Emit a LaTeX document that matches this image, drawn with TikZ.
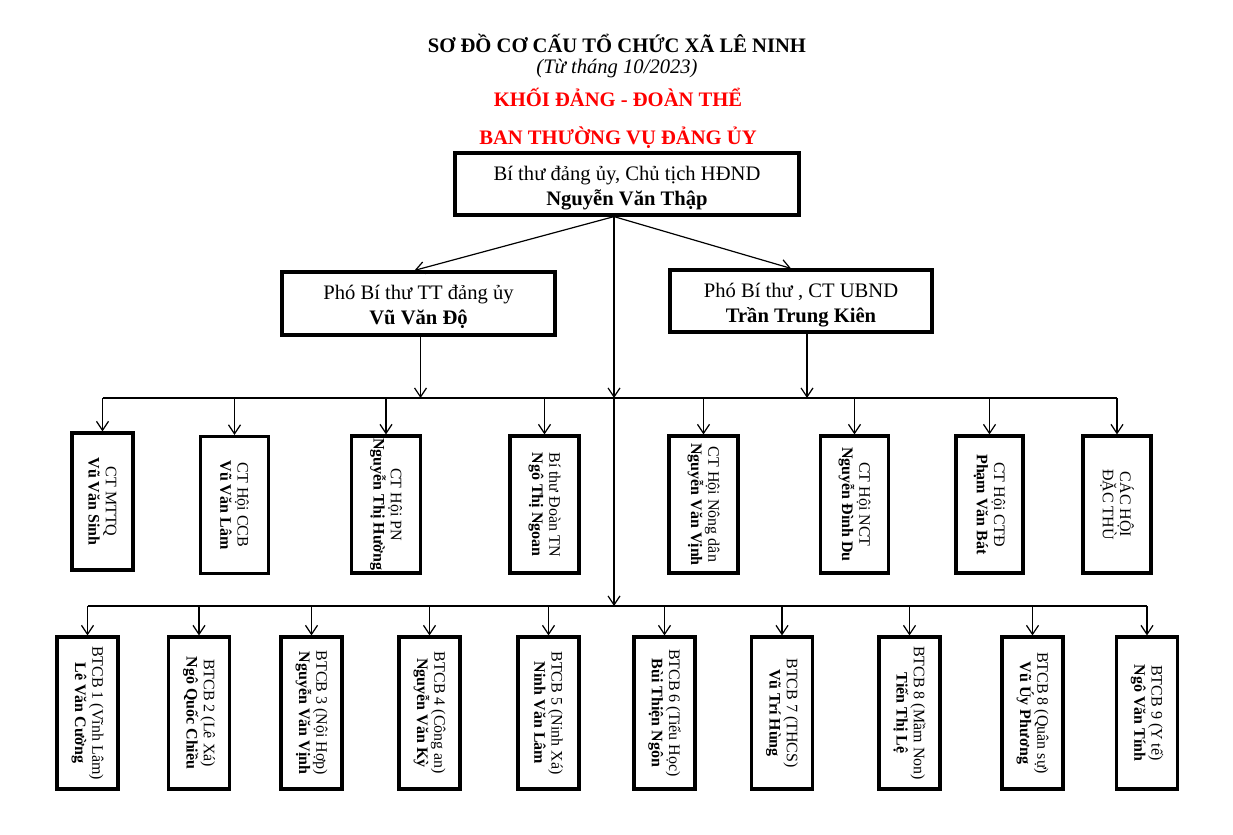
\documentclass[tikz,border=0pt]{standalone}
\usepackage{fontspec}
\setmainfont{Liberation Serif}
\usepackage{tikz}
\usetikzlibrary{arrows.meta}
\tikzset{
  headline/.style         = {font=\fontsize{10.3}{12.5}\selectfont\bfseries},
  redline/.style          = {headline, text=red},
  mainbox/.style          = {rectangle, draw, line width=1.6pt, align=center,
                             inner sep=0pt},
  vbox/.style             = {rectangle, draw, line width=1.6pt, rotate=-90,
                             align=center, inner sep=0pt,
                             font=\fontsize{8}{8.6}\selectfont},
  unitbox/.style          = {vbox, minimum width=76pt, minimum height=30.5pt},
  arrow/.style            = {-{Straight Barb[length=4.5pt,width=6pt]}, line width=0.6pt},
  link/.style             = {line width=0.6pt}
}
\newcommand{\upstrut}{\rule{0pt}{10.8pt}}

\begin{document}
\begin{tikzpicture}[x=0.5pt, y=-0.5pt, font=\fontsize{10.3}{12.5}\selectfont]
  \useasboundingbox (0,0) rectangle (1233,835);
  % headings
  \node[headline] (title)  at (617,43)  {SƠ ĐỒ CƠ CẤU TỔ CHỨC XÃ LÊ NINH};
  \node[font=\fontsize{10.3}{12.5}\selectfont\itshape] (since) at (617,69) {(Từ tháng 10/2023)};
  \node[redline]  (block)  at (618,97)  {KHỐI ĐẢNG - ĐOÀN THỂ};
  \node[redline]  (board)  at (618,138) {BAN THƯỜNG VỤ ĐẢNG ỦY};

  % leaders
  \node[mainbox, minimum width=172pt, minimum height=31pt] (sec) at (627,184)
    {\upstrut Bí thư đảng ủy, Chủ tịch HĐND \\ \textbf{Nguyễn Văn Thập}};
  \node[mainbox, minimum width=136.5pt, minimum height=31.5pt] (vp1) at (418.5,303.5)
    {\upstrut Phó Bí thư TT đảng ủy \\ \textbf{Vũ Văn Độ}};
  \node[mainbox, minimum width=131pt, minimum height=31pt] (vp2) at (801,301)
    {\upstrut Phó Bí thư , CT UBND \\ \textbf{Trần Trung Kiên}};

  \coordinate (hub) at ([xshift=-6.5pt]sec.south);
  \coordinate (j1)  at (hub |- 0,398);
  \coordinate (j2)  at (hub |- 0,606);
  \draw[arrow] (hub) -- ([xshift=-2pt]vp1.north);
  \draw[arrow] (hub) -- ([xshift=-5pt]vp2.north);
  \draw[arrow] (hub) -- (j1);
  \draw[arrow] (j1) -- (j2);
  \draw[arrow] ([xshift=1pt]vp1.south) -- ([xshift=1pt]vp1.south |- j1);
  \draw[arrow] ([xshift=3pt]vp2.south) -- ([xshift=3pt]vp2.south |- j1);

  % mass organisations
  \node[vbox, minimum width=68.5pt, minimum height=30.5pt] (m1) at (102.5,501.5)
    {CT MTTQ \\ \textbf{Vũ Văn Sinh}};
  \node[vbox, minimum width=68.5pt, minimum height=34pt] (m2) at (234.5,505)
    {CT Hội CCB \\ \textbf{Vũ Văn Lâm}};
  \node[vbox, minimum width=68.5pt, minimum height=34.5pt] (m3) at (386,504.5)
    {CT Hội PN \\ \textbf{Nguyễn Thị Hường}};
  \node[vbox, minimum width=68.5pt, minimum height=34.5pt] (m4) at (544.5,504.5)
    {Bí thư Đoàn TN \\ \textbf{Ngô Thị Ngoan}};
  \node[vbox, minimum width=68.5pt, minimum height=34.5pt] (m5) at (703.5,504.5)
    {CT Hội Nông dân \\ \textbf{Nguyễn Văn Vịnh}};
  \node[vbox, minimum width=68.5pt, minimum height=34pt] (m6) at (854.5,504.5)
    {CT Hội NCT \\ \textbf{Nguyễn Đình Du}};
  \node[vbox, minimum width=68.5pt, minimum height=33.5pt] (m7) at (989.5,504.5)
    {CT Hội CTĐ \\ \textbf{Phạm Văn Bát}};
  \node[vbox, minimum width=68.5pt, minimum height=34pt] (m8) at (1117,504.5)
    {CÁC HỘI \\ ĐẶC THÙ};

  \draw[link] (m1.west |- j1) -- (m8.west |- j1);
  \draw[arrow] (m1.west |- j1) -- (m1.west);
  \draw[arrow] (m2.west |- j1) -- (m2.west);
  \draw[arrow] (m3.west |- j1) -- (m3.west);
  \draw[arrow] (m4.west |- j1) -- (m4.west);
  \draw[arrow] (m5.west |- j1) -- (m5.west);
  \draw[arrow] (m6.west |- j1) -- (m6.west);
  \draw[arrow] (m7.west |- j1) -- (m7.west);
  \draw[arrow] (m8.west |- j1) -- (m8.west);

  % grassroots committees
  \node[unitbox] (b1)  at (87.5,713)   {BTCB 1 (Vĩnh Lâm) \\ \textbf{Lê Văn Cường}};
  \node[unitbox] (b2)  at (199,713)    {BTCB 2 (Lê Xá) \\ \textbf{Ngô Quốc Chiều}};
  \node[unitbox] (b3)  at (311.5,713)  {BTCB 3 (Nội Hợp) \\ \textbf{Nguyễn Văn Vịnh}};
  \node[unitbox] (b4)  at (429.5,713)  {BTCB 4 (Công an) \\ \textbf{Nguyễn Văn Kỳ}};
  \node[unitbox] (b5)  at (548.5,713)  {BTCB 5 (Ninh Xá) \\ \textbf{Ninh Văn Lâm}};
  \node[unitbox] (b6)  at (664.5,713)  {BTCB 6 (Tiểu Học) \\ \textbf{Bùi Thiện Ngôn}};
  \node[unitbox] (b7)  at (782,713)    {BTCB 7 (THCS) \\ \textbf{Vũ Trí Hùng}};
  \node[unitbox] (b8)  at (909.5,713)  {BTCB 8 (Mầm Non) \\ \textbf{Tiến Thị Lệ}};
  \node[unitbox] (b9)  at (1032.5,713) {BTCB 8 (Quân sự) \\ \textbf{Vũ Úy Phương}};
  \node[unitbox] (b10) at (1147,713)   {BTCB 9 (Y tế) \\ \textbf{Ngô Văn Tính}};

  \draw[link] (b1.west |- j2) -- (b10.west |- j2);
  \draw[arrow] (b1.west |- j2) -- (b1.west);
  \draw[arrow] (b2.west |- j2) -- (b2.west);
  \draw[arrow] (b3.west |- j2) -- (b3.west);
  \draw[arrow] (b4.west |- j2) -- (b4.west);
  \draw[arrow] (b5.west |- j2) -- (b5.west);
  \draw[arrow] (b6.west |- j2) -- (b6.west);
  \draw[arrow] (b7.west |- j2) -- (b7.west);
  \draw[arrow] (b8.west |- j2) -- (b8.west);
  \draw[arrow] (b9.west |- j2) -- (b9.west);
  \draw[arrow] (b10.west |- j2) -- (b10.west);
\end{tikzpicture}
\end{document}
